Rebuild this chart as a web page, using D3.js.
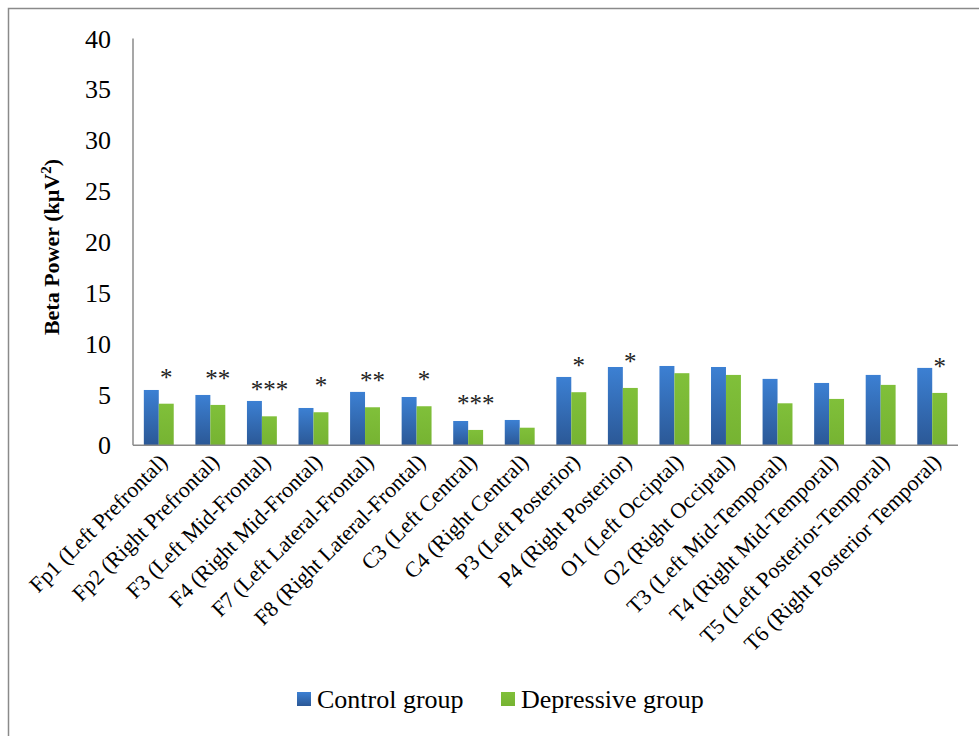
<!DOCTYPE html>
<html><head><meta charset="utf-8">
<script src="https://cdn.jsdelivr.net/npm/d3@7"></script>
<style>body{margin:0;background:#fff}svg{display:block}svg text{font-family:"Liberation Serif","DejaVu Serif",serif}</style>
</head><body>
<svg id="c" width="979" height="736"></svg>
<script>
const categories = ["Fp1 (Left Prefrontal)","Fp2 (Right Prefrontal)","F3 (Left Mid-Frontal)","F4 (Right Mid-Frontal)","F7 (Left Lateral-Frontal)","F8 (Right Lateral-Frontal)","C3 (Left Central)","C4 (Right Central)","P3 (Left Posterior)","P4 (Right Posterior)","O1 (Left Occiptal)","O2 (Right Occiptal)","T3 (Left Mid-Temporal)","T4 (Right Mid-Temporal)","T5 (Left Posterior-Temporal)","T6 (Right Posterior Temporal)"];
const controlValues = [5.44,4.95,4.36,3.67,5.25,4.75,2.39,2.49,6.72,7.7,7.8,7.7,6.53,6.13,6.92,7.61];
const depressiveValues = [4.09,3.97,2.85,3.25,3.74,3.84,1.51,1.73,5.22,5.64,7.09,6.92,4.13,4.56,5.94,5.15];
const significance = ["*","**","***","*","**","*","***","","*","*","","","","","","*"];
const yTicks = [0,5,10,15,20,25,30,35,40];
const seriesNames = ["Control group","Depressive group"];

const svg = d3.select("#c");
const defs = svg.append("defs");
const gb = defs.append("linearGradient").attr("id","gBlue").attr("x1",0).attr("y1",0).attr("x2",0).attr("y2",1);
gb.append("stop").attr("offset","0%").attr("stop-color","#3c80d3");
gb.append("stop").attr("offset","100%").attr("stop-color","#2b5896");
const gg = defs.append("linearGradient").attr("id","gGreen").attr("x1",0).attr("y1",0).attr("x2",0).attr("y2",1);
gg.append("stop").attr("offset","0%").attr("stop-color","#80c03a");
gg.append("stop").attr("offset","100%").attr("stop-color","#76b332");

// outer frame
svg.append("rect").attr("x",8.5).attr("y",8.5).attr("width",1000).attr("height",1000)
  .attr("fill","none").attr("stroke","#8a8a8a").attr("stroke-width",1.5);

const x0 = 133, x1 = 958;
const y = d3.scaleLinear().domain([0,40]).range([445.3,38.5]);
const x = d3.scaleBand().domain(categories).range([x0,x1]).paddingInner(0.42).paddingOuter(0.21);
const xs = d3.scaleBand().domain(seriesNames).range([0,x.bandwidth()]);

// y tick labels
svg.append("g").selectAll("text").data(yTicks).join("text")
  .attr("x",111).attr("y",d=>y(d)).attr("dy","0.35em").attr("text-anchor","end")
  .attr("font-size",26).attr("fill","#000").text(d=>d);

// y title
svg.append("text").attr("transform","translate(59,247) rotate(-90)")
  .attr("text-anchor","middle").attr("font-weight","bold")
  .attr("font-size",22).attr("fill","#000")
  .html("Beta Power (kµV<tspan baseline-shift='super' font-size='15'>2</tspan>)");

// bars
const groups = svg.append("g").selectAll("g").data(categories).join("g")
  .attr("transform",d=>`translate(${x(d)},0)`);
groups.append("rect").attr("x",xs("Control group")).attr("width",xs.bandwidth())
  .attr("y",(d,i)=>y(controlValues[i])).attr("height",(d,i)=>y(0)-y(controlValues[i]))
  .attr("fill","url(#gBlue)");
groups.append("rect").attr("x",xs("Depressive group")).attr("width",xs.bandwidth())
  .attr("y",(d,i)=>y(depressiveValues[i])).attr("height",(d,i)=>y(0)-y(depressiveValues[i]))
  .attr("fill","url(#gGreen)");
groups.append("text").attr("x",xs("Depressive group")+xs.bandwidth()/2)
  .attr("y",(d,i)=>y(depressiveValues[i])-18).attr("text-anchor","middle")
  .attr("font-size",25).attr("fill","#222")
  .text((d,i)=>significance[i]);

// axes lines
svg.append("line").attr("x1",x0).attr("x2",x0).attr("y1",y(40)).attr("y2",y(0))
  .attr("stroke","#8a8a8a").attr("stroke-width",1.5);
svg.append("line").attr("x1",x0).attr("x2",x1).attr("y1",y(0)).attr("y2",y(0))
  .attr("stroke","#8a8a8a").attr("stroke-width",1.5);

// x labels
svg.append("g").selectAll("text").data(categories).join("text")
  .attr("transform",d=>`translate(${x(d)+x.bandwidth()/2+10},${y(0)+18}) rotate(-45)`)
  .attr("text-anchor","end").attr("font-size",22).attr("fill","#000")
  .text(d=>d);

// legend
const legend = [{name:"Control group",fill:"url(#gBlue)",x:297},{name:"Depressive group",fill:"url(#gGreen)",x:501}];
const lg = svg.append("g").selectAll("g").data(legend).join("g");
lg.append("rect").attr("x",d=>d.x).attr("y",692).attr("width",14).attr("height",14).attr("fill",d=>d.fill);
lg.append("text").attr("x",d=>d.x+20).attr("y",708).attr("font-size",26)
  .attr("fill","#000").text(d=>d.name);
</script>
</body></html>
